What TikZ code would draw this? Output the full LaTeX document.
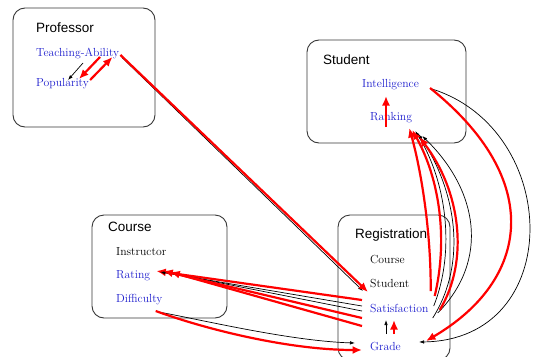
\documentclass[tikz,border=0pt]{standalone}
\usepackage{fontspec}
\newfontfamily\boxfont{Liberation Sans}
\usepackage{xcolor}
\usetikzlibrary{arrows.meta, calc}
\definecolor{attrblue}{RGB}{30,30,205}
\definecolor{framegray}{RGB}{55,55,55}
\tikzset{
  boxframe/.style={draw=framegray, line width=0.9pt, rounded corners=12pt},
  boxname/.style={anchor=base west, inner sep=0pt, font=\boxfont\fontsize{13.5}{16}\selectfont},
  attr/.style={anchor=base west, inner sep=0pt, text=attrblue, font=\fontsize{11.7}{14}\selectfont},
  plainattr/.style={attr, text=black},
  redarr/.style={draw=red, line width=2.2pt, -{Latex[length=9.5pt,width=8pt]}},
  blackarr/.style={draw=black, line width=0.7pt, -{Latex[length=5pt,width=3.5pt]}},
}

\begin{document}
\begin{tikzpicture}[x=1pt, y=-1pt]
\useasboundingbox (0,0) rectangle (534,356);
%\draw[step=10pt,gray,very thin] (0,0) grid (534,356); %background grid
\draw[boxframe] (13,8) rectangle (155,127);
\draw[boxframe] (307,40) rectangle (466,143);
\draw[boxframe] (92,215) rectangle (227,318);
\draw[boxframe] (338,215) rectangle (450,360);
%---------------------------------------------------
\node[boxname] (prof) at (36,32) {Professor};
\node[attr] (ta) at (36,56) {Teaching-Ability};
\node[attr] (pop) at (36,86) {Popularity};
%---------------------------------------------------
\node[boxname] (stud) at (323,64) {Student};
\node[attr] (intel) at (362,87) {Intelligence};
\node[attr] (rank) at (370,120) {Ranking};
%---------------------------------------------------
\node[boxname] (course) at (108,231.5) {Course};
\node[plainattr] (instr) at (116,255.5) {Instructor};
\node[attr] (rating) at (116,278) {Rating};
\node[attr] (diff) at (116,302) {Difficulty};
%---------------------------------------------------
\node[boxname] (reg) at (355,238.5) {Registration};
\node[plainattr] (regcourse) at (370,263) {Course};
\node[plainattr] (regstud) at (370,287) {Student};
\node[attr] (sat) at (370,312) {Satisfaction};
\node[attr] (grade) at (370,350) {Grade};
%---------------------------------------------------
% professor
\draw[blackarr] ($(ta.base west)+(47,7)$) -- ($(pop.base west)+(32,-6)$);
\draw[redarr] ($(ta.base west)+(64,1)$) -- ($(pop.base west)+(43,-7)$);
\draw[redarr] ($(pop.base east)+(1,-6)$) -- ($(ta.base east)+(-7,1)$);
\draw[blackarr] ($(ta.base east)+(3,2)$) -- ($(sat.base west)+(-7,-21)$);
\draw[redarr] ($(ta.base east)+(1,-1)$) -- ($(sat.base west)+(-2,-20)$);
%---------------------------------------------------
% course
\draw[redarr] ($(sat.base west)+(-8,-12)$) -- ($(rating.base east)+(6,-7)$);
\draw[blackarr] ($(sat.base west)+(-8,-6)$) -- ($(rating.base east)+(10,-6)$);
\draw[blackarr] ($(sat.base west)+(-8,-1)$) -- ($(rating.base east)+(15,-6)$);
\draw[redarr] ($(sat.base west)+(-8,6)$) -- ($(rating.base east)+(13,-7)$);
\draw[redarr] ($(sat.base west)+(-8,14)$) -- ($(rating.base east)+(20,-6)$);
\draw[blackarr] ($(diff.base east)+(-4,10)$) .. controls ($(diff.base east)+(40,18)$) and ($(grade.base west)+(-80,-9)$) .. ($(grade.base west)+(-15,-7)$);
\draw[redarr] ($(diff.base east)+(-7,9)$) .. controls ($(diff.base east)+(45,28)$) and ($(grade.base west)+(-80,0)$) .. ($(grade.base west)+(-8,0)$);
%---------------------------------------------------
% registration
\draw[blackarr] ($(grade.base west)+(16,-16)$) -- ($(sat.base west)+(16,8)$);
\draw[redarr] ($(grade.base west)+(24,-16)$) -- ($(sat.base west)+(24,8)$);
\draw[blackarr] ($(sat.base east)+(5,-6)$) .. controls (456,250) and (446,180) .. ($(rank.base east)+(3,11)$);
\draw[blackarr] ($(sat.base east)+(4,6)$) .. controls (468,262) and (456,190) .. ($(rank.base east)+(6,14)$);
\draw[blackarr] ($(sat.base east)+(9,1)$) .. controls (490,260) and (478,190) .. ($(rank.base east)+(10,16)$);
\draw[redarr] ($(sat.base east)+(2,-21)$) .. controls (431,230) and (421,170) .. ($(rank.base east)+(-3,8)$);
\draw[redarr] ($(sat.base east)+(6,-16)$) .. controls (448,240) and (440,180) .. ($(rank.base east)+(0,10)$);
\draw[redarr] ($(sat.base east)+(11,-2)$) .. controls (470,260) and (460,190) .. ($(rank.base east)+(7,17)$);
%---------------------------------------------------
% student
\draw[redarr] ($(rank.base west)+(16,7)$) -- ($(intel.base west)+(24,9)$);
\draw[blackarr] ($(intel.base east)+(13,2)$) .. controls (562,130) and (566,340) .. ($(grade.base east)+(18,-8)$);
\draw[redarr] ($(intel.base east)+(11,1)$) .. controls (545,180) and (530,280) .. ($(grade.base east)+(25,-9)$);
\end{tikzpicture}
\end{document}
